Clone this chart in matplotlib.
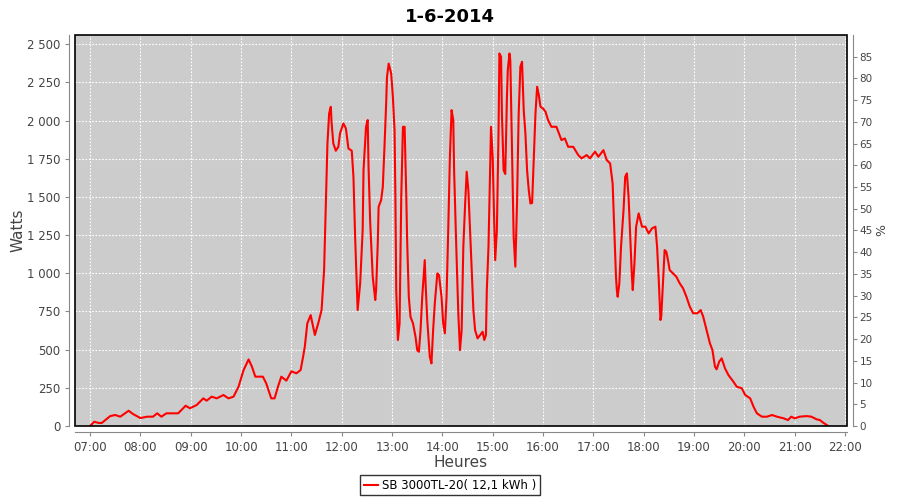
import matplotlib
matplotlib.use("Agg")
import matplotlib.pyplot as plt
from matplotlib.patches import Rectangle
from matplotlib.ticker import FuncFormatter

# production readings (time of day, watts)
times = ["07:00", "07:05", "07:10", "07:14", "07:24", "07:30", "07:36", "07:46", "07:51", "08:00",
         "08:08", "08:15", "08:20", "08:25", "08:31", "08:45", "08:54", "08:59", "09:07", "09:15",
         "09:19", "09:25", "09:31", "09:39", "09:45", "09:51", "09:57", "10:03", "10:09", "10:13",
         "10:17", "10:26", "10:30", "10:36", "10:40", "10:44", "10:48", "10:54", "11:00", "11:06",
         "11:11", "11:14", "11:16", "11:19", "11:23", "11:28", "11:32", "11:36", "11:39", "11:41",
         "11:43", "11:45", "11:47", "11:48", "11:50", "11:53", "11:56", "11:58", "12:02", "12:05",
         "12:08", "12:12", "12:14", "12:16", "12:19", "12:22", "12:25", "12:26", "12:29", "12:31",
         "12:32", "12:34", "12:37", "12:40", "12:41", "12:43", "12:44", "12:47", "12:49", "12:51",
         "12:53", "12:54", "12:56", "12:59", "13:01", "13:03", "13:04", "13:05", "13:07", "13:09",
         "13:11", "13:13", "13:15", "13:17", "13:18", "13:20", "13:22", "13:25", "13:28", "13:30",
         "13:32", "13:34", "13:36", "13:39", "13:40", "13:42", "13:45", "13:47", "13:49", "13:51",
         "13:54", "13:56", "13:59", "14:01", "14:03", "14:05", "14:07", "14:09", "14:11", "14:13",
         "14:14", "14:16", "14:19", "14:21", "14:23", "14:25", "14:27", "14:29", "14:31", "14:33",
         "14:35", "14:37", "14:39", "14:42", "14:45", "14:48", "14:50", "14:52", "14:53", "14:55",
         "14:57", "14:58", "15:00", "15:02", "15:03", "15:05", "15:07", "15:08", "15:10", "15:11",
         "15:13", "15:15", "15:17", "15:18", "15:20", "15:21", "15:23", "15:25", "15:27", "15:29",
         "15:31", "15:33", "15:35", "15:37", "15:39", "15:41", "15:43", "15:45", "15:47", "15:49",
         "15:51", "15:53", "15:55", "15:57", "16:00", "16:03", "16:06", "16:10", "16:16", "16:19",
         "16:22", "16:26", "16:30", "16:36", "16:42", "16:46", "16:52", "16:56", "17:02", "17:06",
         "17:12", "17:16", "17:20", "17:23", "17:25", "17:27", "17:28", "17:29", "17:31", "17:33",
         "17:36", "17:38", "17:40", "17:42", "17:44", "17:46", "17:47", "17:49", "17:51", "17:54",
         "17:56", "17:58", "18:02", "18:06", "18:10", "18:14", "18:16", "18:18", "18:20", "18:21",
         "18:23", "18:25", "18:27", "18:29", "18:31", "18:35", "18:39", "18:43", "18:47", "18:51",
         "18:55", "18:59", "19:04", "19:08", "19:11", "19:15", "19:19", "19:22", "19:25", "19:27",
         "19:30", "19:33", "19:37", "19:41", "19:47", "19:51", "19:57", "20:01", "20:07", "20:11",
         "20:15", "20:21", "20:27", "20:33", "20:39", "20:47", "20:52", "20:56", "21:00", "21:06",
         "21:14", "21:20", "21:26", "21:30", "21:34", "21:40"]
watts = [0, 28, 20, 20, 65, 72, 61, 100, 79, 52,
         61, 61, 83, 61, 83, 83, 133, 116, 137, 181,
         166, 192, 181, 203, 181, 192, 257, 366, 436, 388,
         323, 323, 279, 181, 181, 257, 323, 297, 358, 345,
         366, 454, 519, 672, 726, 596, 672, 759, 1021, 1435,
         1850, 2046, 2090, 1981, 1850, 1802, 1828, 1916, 1981, 1948,
         1817, 1802, 1632, 1239, 759, 934, 1283, 1675, 1959, 2003,
         1697, 1327, 977, 825, 890, 1196, 1435, 1479, 1566, 1828,
         2112, 2286, 2373, 2308, 2155, 1937, 1501, 890, 563, 672,
         1501, 1959, 1959, 1501, 1217, 846, 715, 672, 584, 497,
         486, 628, 846, 1086, 934, 694, 454, 410, 628, 803,
         999, 988, 846, 672, 607, 846, 1283, 1763, 2068, 2003,
         1675, 1283, 738, 497, 628, 1174, 1435, 1665, 1545, 1283,
         1021, 759, 628, 574, 596, 617, 563, 596, 890, 1174,
         1719, 1959, 1763, 1283, 1086, 1283, 1937, 2439, 2417, 2046,
         1675, 1650, 2155, 2330, 2439, 2395, 1800, 1239, 1043, 1457,
         2046, 2352, 2385, 2068, 1916, 1675, 1545, 1457, 1460, 1763,
         2046, 2221, 2166, 2090, 2079, 2057, 2003, 1959, 1959, 1916,
         1872, 1883, 1828, 1828, 1774, 1752, 1774, 1752, 1796, 1763,
         1806, 1741, 1719, 1588, 1283, 977, 890, 846, 934, 1174,
         1414, 1632, 1654, 1501, 1239, 977, 890, 1065, 1305, 1392,
         1348, 1305, 1305, 1261, 1294, 1305, 1174, 955, 694, 720,
         934, 1152, 1141, 1086, 1021, 999, 977, 934, 901, 846,
         781, 738, 738, 759, 715, 628, 541, 497, 388, 371,
         421, 443, 377, 334, 290, 257, 247, 203, 181, 126,
         83, 61, 61, 72, 61, 50, 39, 61, 50, 61,
         65, 61, 44, 39, 22, 0]

hour_labels = ["%02d:00" % h for h in range(7, 23)]
pct_ticks = list(range(0, 90, 5))

hours = [int(t[:2]) + int(t[3:]) / 60 for t in times]

fig = plt.figure(figsize=(9, 5), dpi=100)
ax = fig.add_axes([0.0833, 0.148, 0.8578, 0.782])
ax.set_facecolor("#cccccc")

ax.plot(hours, watts, color="red", lw=1.5, zorder=3)

ax.set_xlim(6.70, 22.04)
ax.set_ylim(0, 2560)
ax.set_xticks(range(7, 23))
ax.set_xticklabels(hour_labels)
ax.set_yticks(range(0, 2501, 250))
ax.yaxis.set_major_formatter(FuncFormatter(lambda v, p: f"{int(v):,}".replace(",", " ")))

ax.grid(True, color="white", linestyle=(0, (1.5, 1.5)), lw=0.8)
ax.set_axisbelow(True)

for s in ["top", "right"]:
    ax.spines[s].set_visible(False)
for s in ["left", "bottom"]:
    ax.spines[s].set_position(("outward", 4))
    ax.spines[s].set_color("#888888")
ax.add_patch(Rectangle((0, 0), 1, 1, transform=ax.transAxes, fill=False,
                       edgecolor="black", lw=1.2, zorder=5, clip_on=False))

ax.tick_params(colors="#888888", labelcolor="#444444", labelsize=8.5, length=3)
ax.set_ylabel("Watts", fontsize=11, color="#444444", labelpad=1)
ax.set_xlabel("Heures", fontsize=11, color="#444444", labelpad=1)

ax2 = ax.twinx()
ax2.set_ylim(0, 90)
ax2.set_yticks(pct_ticks)
for s in ["top", "left", "bottom"]:
    ax2.spines[s].set_visible(False)
ax2.spines["right"].set_position(("outward", 4))
ax2.spines["right"].set_color("#888888")
ax2.tick_params(colors="#888888", labelcolor="#444444", labelsize=7.5, length=3, pad=2)
ax2.set_ylabel("%", fontsize=9, color="#444444", labelpad=2)

fig.suptitle("1-6-2014", fontsize=13, fontweight="bold", y=0.985)

leg = fig.legend(ax.get_lines(), ["SB 3000TL-20( 12,1 kWh )"], loc="lower center",
                 bbox_to_anchor=(0.5, 0.0), fontsize=8.5, frameon=True, fancybox=False,
                 handlelength=1.2, handletextpad=0.3, borderpad=0.3, borderaxespad=0.4)
leg.get_frame().set_edgecolor("black")
leg.get_frame().set_linewidth(1.0)

fig.savefig("out.png", dpi=100)
